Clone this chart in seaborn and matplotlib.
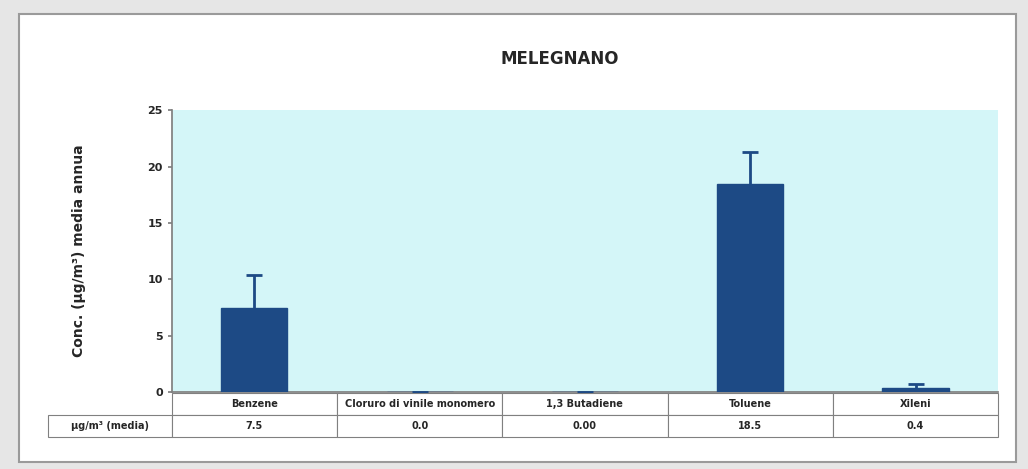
import numpy as np
import pandas as pd
import matplotlib
matplotlib.use('Agg')
import matplotlib.pyplot as plt
import seaborn as sns

# ===== dati =====
categorie = ['Benzene', 'Cloruro di vinile monomero', '1,3 Butadiene', 'Toluene', 'Xileni']
valori = [7.5, 0.0, 0.01, 18.5, 0.4]
errori = [2.9, 0.0, 0.0, 2.8, 0.35]
etichette_tabella = ['7.5', '0.0', '0.00', '18.5', '0.4']
etichetta_riga = 'µg/m³ (media)'
yticks = [0, 5, 10, 15, 20, 25]

df = pd.DataFrame({'categoria': categorie, 'valore': valori, 'errore': errori})

sns.set_theme(style='white')
plt.rcParams['font.family'] = ['DejaVu Sans']

fig = plt.figure(figsize=(10.28, 4.69), dpi=100)
fig.patch.set_facecolor('#e6e6e6')

# cornice bianca del grafico
cornice = plt.Rectangle((0.018, 0.015), 0.97, 0.955, transform=fig.transFigure,
                        facecolor='white', edgecolor='#9a9a9a', linewidth=1.5, zorder=-10)
fig.patches.append(cornice)

ax = fig.add_axes([0.167, 0.164, 0.804, 0.601])
ax.set_facecolor('#d4f6f8')

blu = '#1d4a85'
sns.barplot(data=df, x='categoria', y='valore', color=blu, width=0.4,
            saturation=1, ax=ax, errorbar=None, zorder=3, edgecolor=blu)
_, caps, _ = ax.errorbar(np.arange(len(categorie)), df['valore'],
                         yerr=[np.zeros(len(errori)), df['errore']],
                         fmt='none', ecolor=blu, elinewidth=2, capsize=6, capthick=2, zorder=4)
caps[0].set_visible(False)  # solo la barra superiore

ax.set_ylim(0, 25)
ax.set_yticks(yticks)
ax.set_yticklabels([str(t) for t in yticks], fontsize=8, fontweight='bold')
ax.set_xlim(-0.5, len(categorie) - 0.5)
ax.set_xticks([])
ax.set_xlabel('')
ax.set_ylabel('Conc. (µg/m³) media annua', fontsize=10, fontweight='bold', labelpad=44)
for s in ['top', 'right']:
    ax.spines[s].set_visible(False)
ax.spines['left'].set_color('#808080')
ax.spines['bottom'].set_color('#808080')
ax.tick_params(axis='y', left=True, length=3, color='#808080')

ax.set_title('MELEGNANO', fontsize=12, fontweight='bold', pad=33, x=0.47)

# tabella dati sotto il grafico
largh_etichetta = 0.15
tab = ax.table(cellText=[[''] + categorie, [etichetta_riga] + etichette_tabella],
               cellLoc='center',
               colWidths=[largh_etichetta] + [0.2] * len(categorie),
               bbox=[-largh_etichetta, -0.16, 1 + largh_etichetta, 0.155])
tab.auto_set_font_size(False)
tab.set_fontsize(7)
for (r, c), cell in tab.get_celld().items():
    cell.set_edgecolor('#808080')
    cell.set_linewidth(0.8)
    cell.get_text().set_fontweight('bold')
    if r == 0 and c == 0:
        cell.visible_edges = ''

plt.savefig('out.png', dpi=100, facecolor=fig.get_facecolor())
